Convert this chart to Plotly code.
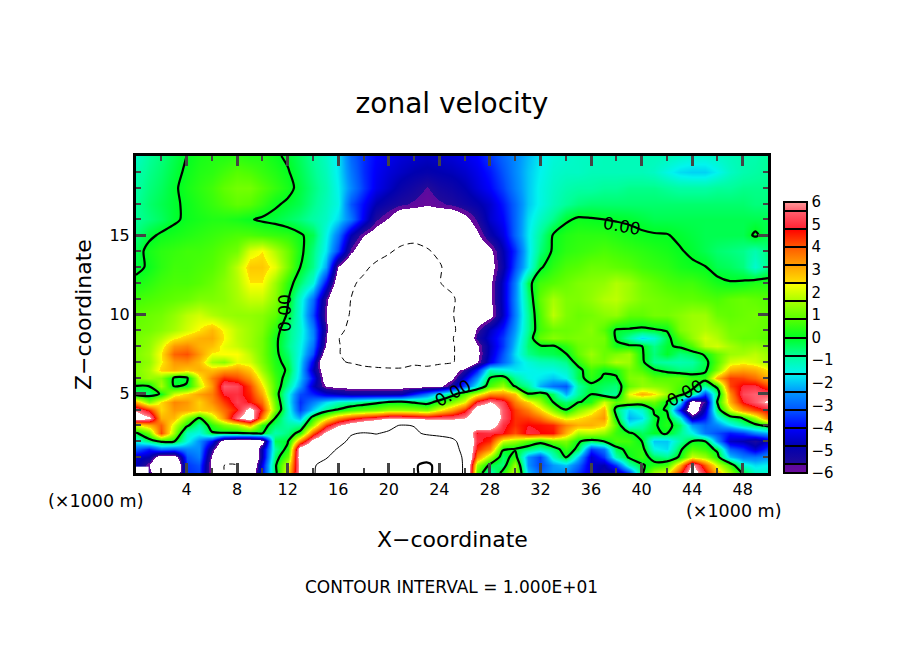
import plotly.graph_objects as go

# zonal velocity, one list per height, x = 0..50 (km)
x_km = list(range(51))
z_km = [0, 0.5, 1, 1.5, 2, 2.5, 3, 3.5, 4, 4.5, 5, 5.5, 6, 6.5, 7, 7.5, 8, 8.5, 9,
        10, 11, 12, 13, 14, 15, 16, 17, 18, 19, 20]

u_00_0 = [-4.4,-5.5,-8,-8,-3.6,-3.4,-6.4,-10,-10,-7.5,-4,-.4,2.5,6.5,9.4,13,15,17,18,18,18,19,19,22,17,15,9,.8,-1.2,.3,2,-2,-3,-2.5,-2.6,-3.5,-4.4,-5.2,-5,-3.5,-.2,1.6,2.2,4.5,7,5,3,1.5,-.1,-1.2,-1.3]
u_00_5 = [-4.6,-6,-8.5,-8.5,-3.5,-3.2,-6.5,-10,-10,-8,-4.2,-.2,2,6.5,9.5,11.5,14,16,17,17,17,18,19,22,17,15,9,1.5,-.2,-.6,1.5,-2.5,-3.4,-2.4,-2,-3,-4.5,-4.8,-3.5,-1,-.1,.3,.6,3,6.3,4,2,.6,-1.3,-1.8,-1.6]
u_01_0 = [-4.5,-4.8,-7,-7,-3.2,-2.7,-6.2,-9,-9.5,-9,-4.8,-.5,1,7,9.5,9.5,12,14,15,15,15,16,16,16,15,13.5,9,3.5,1.5,-.5,.4,-2.5,-3.4,-1.2,.05,-2,-4.5,-3.5,-1,.1,.5,-.4,-.7,.1,2,1.5,.3,-2,-2.7,-2.8,-2.5]
u_01_5 = [-3,-3.8,-2.8,-3,-2.6,-2.5,-5.5,-8,-9,-8.5,-4.8,-.9,.3,7,8,9,10.2,12,13,13,13,14,14,13.5,13,12,8.5,4.5,3.5,.1,-.1,-.5,-1,-.5,.5,-.2,-3.5,-2.8,-.3,.3,.4,-1.5,-1.8,-.2,.8,.5,-.2,-3.1,-3.6,-4.5,-3.5]
u_02_0 = [-1.5,-.5,.2,.1,-1.5,-2.5,-4,-7,-7.5,-7.5,-6.8,-.3,-.1,3.5,6.6,7.8,9.2,10.5,11,11,11,12,12,12,11.5,10.8,8.5,5,4.5,2,1.5,.8,.3,1.1,1.2,.1,-.4,0,.7,.6,.02,-2,-2,-.9,.05,.02,-2.5,-4.6,-4.8,-5.4,-4.6]
u_02_5 = [-.2,1,4.2,1.5,-1.2,-1.5,-.1,-.1,-.1,-.05,.03,-1,-.6,.4,4,6.4,7.8,9.8,10.2,9.9,10.3,11,10.5,9.6,9.2,8.7,7.8,4.8,5,4.8,4.1,5,4.8,4.7,3,1.6,1.7,1.4,.5,.2,-.4,-.05,.03,-.7,-1.5,-2.8,-3.3,-3.8,-3.5,-2.7,-2.2]
u_03_0 = [2.2,3,3.9,2,.2,-.9,.4,1.2,1.7,3,.4,-.5,-.9,-.8,1.5,4.3,5.8,6.8,7.5,8,9.4,10.2,9.9,9.2,8.2,8,7.6,7.2,7,5,4.4,4.8,4.7,4.5,3.5,3,3,2.6,.8,-1.5,-1,-.1,.3,-.4,-2.4,-3,-2.6,-1.7,-.8,-.3,.3]
u_03_5 = [7,6.3,3,2.9,1.3,.05,1.7,3.4,5.8,7,3.5,.05,-1.3,-2.2,.4,2,3.4,4.3,4.9,5.3,5.9,5.9,5.7,5.4,5.6,5.6,6,7.3,7.8,5.5,4.4,4.3,3.8,2.8,2,2.4,2.8,3.3,.1,-2.2,-1.8,-.1,.2,-1.4,-5,-3.8,-1.7,-.4,.1,1.5,3.7]
u_04_0 = [5.8,4.5,2.5,3.3,3.1,2.7,2.9,3.8,4.7,6.6,4.5,1.2,-1.3,-3.4,-1.9,-.7,.05,.6,.9,1.1,1.5,1.5,1.4,1.2,2.2,3.2,4.5,7,7.5,5.5,4.3,3.6,2.6,1.3,0,1.2,2,3,-.5,-1.8,-1.3,.15,-.05,-4,-7.5,-4.5,-.5,2,3.4,4.2,4.8]
u_04_5 = [3,1.2,2.5,3.5,3.3,2.6,3.4,4.3,5.2,4.7,3.8,1,-1.5,-3.6,-2.7,-1.8,-1.2,-.9,-.6,-.3,-.05,0,-.2,-.5,.3,1.2,2.2,5,6,5.2,3.6,2.6,1.5,-.05,-.5,-.1,.3,2,.9,1.2,.8,1,.02,-1.6,-7,-5.5,.1,3,4.8,5.5,6.2]
u_05_0 = [-.6,-.5,.1,2,2.6,3.2,3.6,4.9,5,4.5,3.1,.6,-1.5,-3.3,-3.7,-4.4,-4.7,-5,-5,-5,-5,-4.9,-3.8,-2.8,-1.6,-.5,.8,2,3.4,3.4,2.8,.02,.4,-.4,-2.2,-.8,-.02,-.7,-.8,2.2,3,2.5,1.5,.4,-.5,-3.5,-.6,3.4,5.3,5.6,5.4]
u_05_5 = [0,.02,1.6,-.1,.1,1.8,3.3,5.5,5.3,4.2,2.5,.7,-.8,-2.4,-4.6,-6.1,-6.3,-6.4,-6.4,-6.4,-6.4,-6.4,-6.4,-6.4,-6.3,-5.2,-3.2,-1.5,.7,1.5,-.2,-.8,-2.2,-2.9,-3.2,-.9,-.2,-.4,-.6,.9,1.4,1.3,1.1,.7,.4,-.8,.3,4.2,4.9,5,4.2]
u_06_0 = [1.1,1.5,1.3,-.1,-.2,2.2,3.6,4.5,4.2,3.4,2,.6,-.4,-2,-4,-6.8,-7.2,-7.5,-7.5,-7.5,-7.5,-7.5,-7.5,-7.5,-7,-6.2,-4.3,-2.5,.02,.4,-.8,-1.5,-1.7,-2,-1.6,-.3,.4,-.1,-.1,1.2,1.3,.8,.8,.9,.5,.4,3,4.3,4.2,3.8,3]
u_06_5 = [1.2,1.6,2.6,3,2.7,3,2.8,3.2,3.3,2.7,1.5,.4,-.1,-1.9,-4.7,-7,-8,-8.7,-9.2,-9.5,-9.8,-9.9,-9.7,-9.3,-8.5,-6.8,-5.5,-3.8,-1,-1.4,-1.7,-1.6,-1.5,-1.5,-1.2,-.3,.6,.1,.3,1.1,.7,.05,-.3,-.6,-.6,-.2,1.2,3,3.2,3,2.4]
u_07_0 = [1.1,1.4,2.3,3.3,3.4,2.9,1.6,1.3,2.2,2,1.2,.3,-.3,-1.8,-4.2,-8,-9.7,-10.2,-10.8,-11,-10.6,-10.3,-10.2,-10.8,-10.6,-10.4,-8,-6.1,-4.2,-3,-2,-1.4,-1.1,-1,-.7,.4,1.2,1.1,1.7,1.5,.2,-.8,-.9,-1,-.9,-.3,.8,2,2.2,2,1.6]
u_07_5 = [1.2,1.5,2.4,3.9,4.1,3.3,2.3,2.4,2.4,1.8,1.1,.2,-.5,-1.6,-3.3,-7,-9.8,-11,-11.5,-11.5,-11.5,-11.5,-11.5,-11.5,-11.5,-10.5,-8,-6.3,-4.5,-3.2,-1.8,-.7,-.4,-.3,-.05,.9,1.5,1,1.2,1.5,.1,-.6,-.05,-.6,-.4,.1,.9,1.5,1.6,1.8,1.5]
u_08_0 = [1.1,1.4,2.1,3.3,3.5,3,2.8,2.2,1.9,1.5,1.1,.2,-.7,-1.5,-2.9,-6.1,-9.7,-11.5,-12,-12,-12,-12,-12,-12,-12,-10.5,-8,-6.2,-4.6,-3.5,-2,-.5,-.1,-.1,.4,1,1.2,1,.2,.15,.05,-.7,-.1,.1,.7,1.8,2,1.6,1.3,1.4,1.2]
u_08_5 = [1.1,1.3,1.7,2.3,2.7,3,3.1,2.4,1.8,1.5,1.1,.2,-.6,-1.4,-2.6,-5.9,-9.8,-12,-12,-12,-12,-12,-12,-12,-12,-10.3,-7.5,-5.4,-4.4,-3.5,-2.2,-.6,.9,1.3,1.1,1.2,1.2,1.1,-.1,-.9,-1.8,-1.4,-.3,.7,1.4,2,1.7,1.2,1,1,.8]
u_09_0 = [1,1.1,1.3,1.6,2,2.4,2.9,2.3,1.8,1.5,1.2,.4,-.6,-1.3,-2.7,-5.6,-9,-11,-12,-12,-12,-12,-12,-12,-12,-10.8,-8,-5.8,-4.6,-3.8,-2.4,-.8,.6,1,1,1.1,1.3,.8,-.1,-.1,-.2,-.1,.05,1.2,1.5,1.7,1.5,1.1,1.1,1,.9]
u_10_0 = [.9,1,1.1,1.4,1.8,2,1.7,1.5,1.4,1.4,1.3,.9,-.1,-1.4,-3.3,-6,-8,-10.3,-12,-12,-12,-12,-12,-12,-12,-10.3,-8,-7,-6.4,-4.6,-2.7,-.8,.7,1.8,1.2,1,1.1,1.3,1.4,.9,.9,1.1,1.1,1.3,1.5,1.5,1,.9,1,1.1,.9]
u_11_0 = [.6,.7,.8,.9,1,1.2,1.2,1.3,1.6,1.9,1.9,1.3,.1,-1.3,-2.9,-5.7,-8,-10,-12,-12,-12,-12,-12,-12,-12,-10.8,-7.5,-6.8,-6.2,-4.5,-2.6,-.6,.9,1.6,1.2,1.2,1.4,1.7,1.8,1.5,1.2,1.1,1,.9,.9,.8,.7,.9,1,.9,.8]
u_12_0 = [.2,.4,.6,.7,.7,.8,1,1.3,1.7,2.4,2.4,1.5,.4,-.5,-1.4,-4,-7,-9.2,-11,-12,-12,-12,-12,-12,-10.2,-8.5,-7,-6.6,-6.2,-4.5,-2.7,-.3,.6,.8,1,1.2,1.3,1.4,1.7,1.5,1.1,.9,.7,.6,.6,.4,.2,.05,.1,.3,.3]
u_13_0 = [-.2,.1,.4,.6,.6,.7,.8,1.1,1.8,2.7,2.7,2.2,1.1,0,-.7,-2.3,-6.1,-7.5,-9,-11,-12,-12,-12,-11.5,-10.5,-8,-7.5,-7,-6.5,-5,-3.3,-1.7,-.1,.4,.7,.8,1,1,.9,.8,.6,.5,.4,.2,.1,.03,-.3,-.4,-.6,-1.3,-.7]
u_14_0 = [-.3,.2,.4,.5,.6,.6,.7,.9,1.1,2.1,2.4,1.7,1,.2,-.6,-1.7,-3.4,-5.8,-7,-8,-9.5,-11,-12,-10.5,-9,-8,-7.5,-7,-6.3,-4.8,-3.6,-1.8,-.6,.1,.4,.5,.6,.7,.6,.5,.4,.3,.2,.05,-.1,-.3,-.5,-.6,-.7,-1,-.6]
u_15_0 = [-.6,-.15,.1,.2,.3,.4,.5,.6,.7,.7,.6,.5,.4,.1,-.3,-1.5,-2.8,-4.8,-6,-6.6,-7,-8,-8,-8,-8,-8,-7,-6.2,-5,-4.3,-3,-1.7,-.8,.05,.3,.4,.4,.4,.3,.2,.1,.05,.03,-.1,-.2,-.3,-.3,-.3,-.3,.1,-.3]
u_16_0 = [-.8,-.6,-.4,-.1,.1,.2,.3,.3,.2,.05,-.1,-.2,-.4,-.6,-.9,-1.2,-1.8,-2.8,-4.2,-5.5,-6.1,-7,-7,-7,-7,-7,-6.3,-5.5,-4.5,-4,-3,-1.8,-1.2,-.7,-.1,.1,.05,0,-.05,-.1,-.2,-.3,-.3,-.3,-.3,-.3,-.3,-.3,-.3,-.3,-.3]
u_17_0 = [-.8,-.5,-.3,-.1,.1,.3,.5,.7,.9,.8,.5,.1,-.1,-.3,-.7,-1.1,-1.5,-3.2,-4,-4.8,-5.2,-5.5,-5.7,-5.9,-5.7,-5.5,-5.2,-4.9,-4.5,-3.8,-3,-2,-1.5,-1.1,-.8,-.6,-.5,-.5,-.5,-.5,-.5,-.5,-.5,-.5,-.5,-.5,-.5,-.5,-.5,-.6,-.6]
u_18_0 = [-.9,-.6,-.4,-.1,.2,.4,.6,.9,1.1,1.1,.8,.5,.2,-.2,-.6,-1,-1.6,-2.6,-3.5,-4.2,-4.6,-5,-5.3,-5.65,-5.3,-5.1,-4.8,-4.4,-4,-3.4,-2.7,-2,-1.5,-1.2,-1,-.9,-.9,-.8,-.8,-.7,-.7,-.7,-.8,-.9,-.9,-.9,-.8,-.8,-.7,-.7,-.7]
u_19_0 = [-1,-.7,-.5,-.2,.1,.3,.4,.6,.8,.7,.5,.3,.05,-.3,-.7,-1.1,-1.7,-2.8,-3.6,-4.1,-4.4,-4.6,-4.8,-4.9,-4.8,-4.7,-4.5,-4.2,-3.8,-3.2,-2.6,-2,-1.6,-1.3,-1.2,-1.2,-1.1,-1.1,-1.1,-1.1,-1.1,-1.2,-1.5,-1.8,-1.9,-1.9,-1.6,-1.2,-1,-.9,-.8]
u_20_0 = [-1.2,-.8,-.6,-.3,0,.2,.3,.3,.4,.3,.3,.1,-.1,-.4,-.8,-1.2,-1.7,-3,-3.6,-4,-4.2,-4.4,-4.5,-4.6,-4.5,-4.4,-4.2,-4,-3.5,-3,-2.6,-2.1,-1.7,-1.4,-1.3,-1.2,-1.2,-1.1,-1.1,-1.1,-1.1,-1.1,-1.1,-1.2,-1.3,-1.3,-1.2,-1.1,-1,-1,-.8]

u_rows = [u_00_0, u_00_5, u_01_0, u_01_5, u_02_0, u_02_5, u_03_0, u_03_5, u_04_0, u_04_5,
          u_05_0, u_05_5, u_06_0, u_06_5, u_07_0, u_07_5, u_08_0, u_08_5, u_09_0, u_10_0,
          u_11_0, u_12_0, u_13_0, u_14_0, u_15_0, u_16_0, u_17_0, u_18_0, u_19_0, u_20_0]

# colour table, -6..6, outside of it is left white
level_vals = [-6, -5.6, -5.6, -4.8, -4, -3.2, -2.4, -1.6, -0.8, 0, 0.8, 1.6, 2.4, 2.4, 3.2, 4, 4.8, 4.8, 5.6, 6]
level_cols = ['#6b0a9b', '#5a0a9f', '#200a99', '#0000b0', '#0000ff', '#0055ff', '#0099ff', '#00f5ee',
              '#00ff99', '#00ff22', '#55ff00', '#a5ff00', '#ffff00', '#ffe000', '#ffa000', '#ff5a00',
              '#ff0000', '#ff2030', '#ff6070', '#ff9a9a']


def scale(lim):
    out = [[(v + lim) / (2 * lim), c] for v, c in zip(level_vals, level_cols)]
    if lim > 6:
        out = [[0, 'white'], [(lim - 6) / (2 * lim), 'white']] + out
        out += [[(lim + 6) / (2 * lim), 'white'], [1, 'white']]
    return out


fig = go.Figure()

fig.add_trace(go.Heatmap(x=x_km, y=z_km, z=u_rows, zmin=-6.5, zmax=6.5, zsmooth='best',
                         colorscale=scale(6.5), showscale=False, hoverinfo='skip'))

# contour lines: interval 10, zero and 20 thick, negative dashed
fig.add_trace(go.Contour(x=x_km, y=z_km, z=u_rows, showscale=False, hoverinfo='skip',
                         contours=dict(coloring='none', start=0, end=0, size=1),
                         line=dict(color='black', width=2.2, smoothing=0.8)))
fig.add_trace(go.Contour(x=x_km, y=z_km, z=u_rows, showscale=False, hoverinfo='skip',
                         contours=dict(coloring='none', start=20, end=20, size=1),
                         line=dict(color='black', width=2.2, smoothing=0.8)))
fig.add_trace(go.Contour(x=x_km, y=z_km, z=u_rows, showscale=False, hoverinfo='skip',
                         contours=dict(coloring='none', start=10, end=10, size=1),
                         line=dict(color='black', width=1, smoothing=0.8)))
fig.add_trace(go.Contour(x=x_km, y=z_km, z=u_rows, showscale=False, hoverinfo='skip',
                         contours=dict(coloring='none', start=-10, end=-10, size=1),
                         line=dict(color='black', width=1, dash='6px,4px', smoothing=0.8)))

# only there for the colour bar, its axes look away from its data so nothing is drawn
fig.add_trace(go.Contour(x=[0, 1], y=[0, 1], z=[[-6, 6], [-6, 6]], xaxis='x2', yaxis='y2', zmin=-6, zmax=6,
                         colorscale=scale(6), hoverinfo='skip',
                         contours=dict(coloring='heatmap', start=-5.6, end=5.6, size=0.8),
                         line=dict(color='black', width=2),
                         colorbar=dict(x=648 / 632, xanchor='left', y=0, yanchor='bottom',
                                       len=271 / 317, lenmode='fraction', thickness=23,
                                       thicknessmode='pixels', xpad=0, ypad=0,
                                       outlinecolor='black', outlinewidth=2, ticks='',
                                       tickmode='array', tickvals=list(range(-6, 7)),
                                       tickfont=dict(size=15, color='black'))))

# the page puts the figure 8 px in from the corner
fig.update_layout(
    width=904, height=654, autosize=False, showlegend=False,
    margin=dict(l=128, r=144, t=148, b=189),
    paper_bgcolor='white', plot_bgcolor='white',
    font=dict(family='DejaVu Sans', color='black'),
    title=dict(text='zonal velocity', x=0.5, xref='paper', xanchor='center', y=0.8547,
               yanchor='middle', font=dict(size=28)),
    xaxis=dict(range=[0, 50], tickmode='array', tickvals=list(range(4, 49, 4)), ticks='inside',
               ticklen=10, tickwidth=2.5, mirror='ticks', showline=True, linecolor='black',
               linewidth=3, showgrid=False, zeroline=False, tickfont=dict(size=16),
               minor=dict(ticks='inside', tickvals=list(range(2, 50, 4)), ticklen=5, tickwidth=1.5)),
    yaxis=dict(range=[0, 20], tickmode='array', tickvals=[5, 10, 15], ticks='inside',
               ticklen=10, tickwidth=2.5, mirror='ticks', showline=True, linecolor='black',
               linewidth=3, showgrid=False, zeroline=False, tickfont=dict(size=16),
               minor=dict(ticks='inside', tickvals=[v for v in range(1, 20) if v % 5], ticklen=5, tickwidth=1.5)),
    xaxis2=dict(domain=[0, 0.02], anchor='y2', range=[5, 6], visible=False),
    yaxis2=dict(domain=[0, 0.02], anchor='x2', range=[5, 6], visible=False),
)


def note(text, px, py, size, angle=0):
    fig.add_annotation(text=text, x=(px - 136) / 632, y=(473 - py) / 317, xref='paper', yref='paper',
                       showarrow=False, xanchor='center', yanchor='middle', textangle=angle,
                       font=dict(size=size, color='black'))


note('X\u2212coordinate', 452, 539, 22)
note('Z\u2212coordinate', 83, 315, 22, -90)
note('CONTOUR INTERVAL = 1.000E+01', 451, 587, 17)
note('(\u00d71000 m)', 95, 501, 17.5)
note('(\u00d71000 m)', 733, 511, 17.5)
note('0.00', 622, 226, 17, 10)
note('0.00', 453, 393, 17, -28)
note('0.00', 285, 313, 17, -90)
note('0.00', 685, 393, 17, -28)

fig.write_html("out.html")
